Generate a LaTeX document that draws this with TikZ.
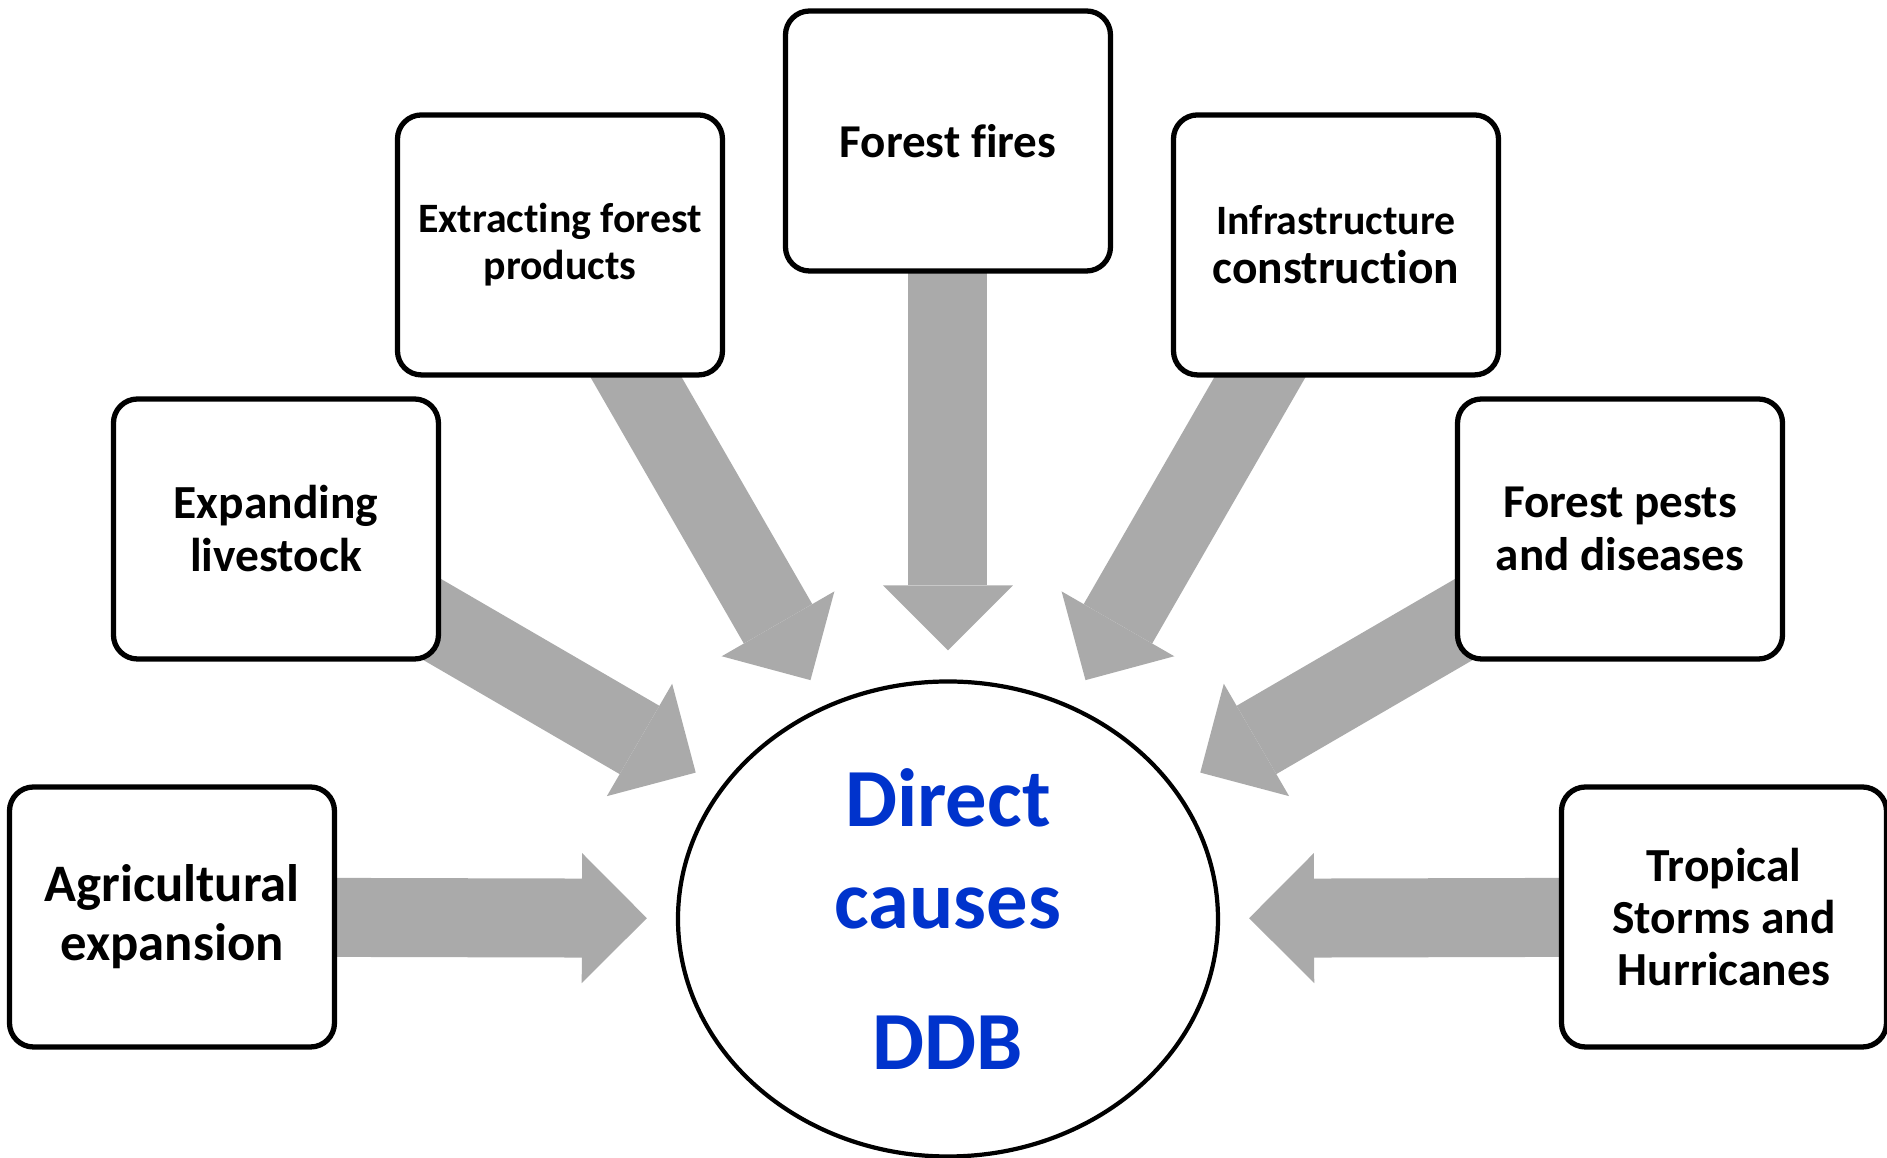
\documentclass[tikz,border=0pt]{standalone}
\usepackage{fontspec}
\setmainfont{Carlito}[Ligatures = {NoCommon, NoContextual}, Contextuals = NoAlternate]
\usetikzlibrary{arrows.meta, shapes.geometric, backgrounds}
\definecolor{arrowgray}{RGB}{170,170,170}
\definecolor{causeblue}{RGB}{0,51,204}
\newcommand{\boxfont}[2]{\bfseries\fontsize{#1}{#2}\selectfont}
\tikzstyle{cause} = [rectangle, rounded corners = 0.24cm, align = center, minimum width = 3.25cm, minimum height = 2.6cm, line width = 1.5pt, draw = black, fill = white]
\tikzstyle{centre} = [ellipse, align = center, minimum width = 5.4cm, minimum height = 4.75cm, line width = 1.2pt, draw = black, fill = white, text = causeblue, font = \boxfont{23.5pt}{29pt}]
\tikzstyle{bigarrow} = [draw = arrowgray, line width = 0.79cm, -{Triangle[width = 1.3cm, length = 0.65cm, line width = 0pt]}, shorten < = -0.6cm, shorten > = 0.29cm]

\begin{document}
\begin{tikzpicture}
    \useasboundingbox (-9.48,-2.41) rectangle (9.39,9.17);

    \node (ddb) [centre] at (0,-0.02) {Direct\\causes\\[0.39cm]DDB};
    \node (agri) [cause, font = \boxfont{15pt}{16.8pt}] at (180:7.76) {Agricultural\\expansion};
    \node (live) [cause, font = \boxfont{13.5pt}{15.1pt}] at (150:7.76) {Expanding\\livestock};
    \node (extr) [cause, font = \boxfont{11.9pt}{13.4pt}] at (120:7.76) {Extracting forest\\products};
    \node (fire) [cause, font = \boxfont{13.4pt}{15pt}] at (90:7.76) {Forest fires};
    \node (infr) [cause, font = \boxfont{11.9pt}{13.9pt}] at (60:7.76) {Infrastructure\\{\fontsize{13.5pt}{13.9pt}\selectfont construction}};
    \node (pest) [cause, font = \boxfont{13.4pt}{15.1pt}] at (30:7.76) {Forest pests\\and diseases};
    \node (trop) [cause, font = \boxfont{13.5pt}{14.9pt}] at (0:7.76) {Tropical\\Storms and\\Hurricanes};

    \begin{pgfonlayer}{background}
    \draw [bigarrow] (agri) -- (ddb);
    \draw [bigarrow] (live) -- (ddb);
    \draw [bigarrow] (extr) -- (ddb);
    \draw [bigarrow] (fire) -- (ddb);
    \draw [bigarrow] (infr) -- (ddb);
    \draw [bigarrow] (pest) -- (ddb);
    \draw [bigarrow] (trop) -- (ddb);
    \end{pgfonlayer}
\end{tikzpicture}
\end{document}
